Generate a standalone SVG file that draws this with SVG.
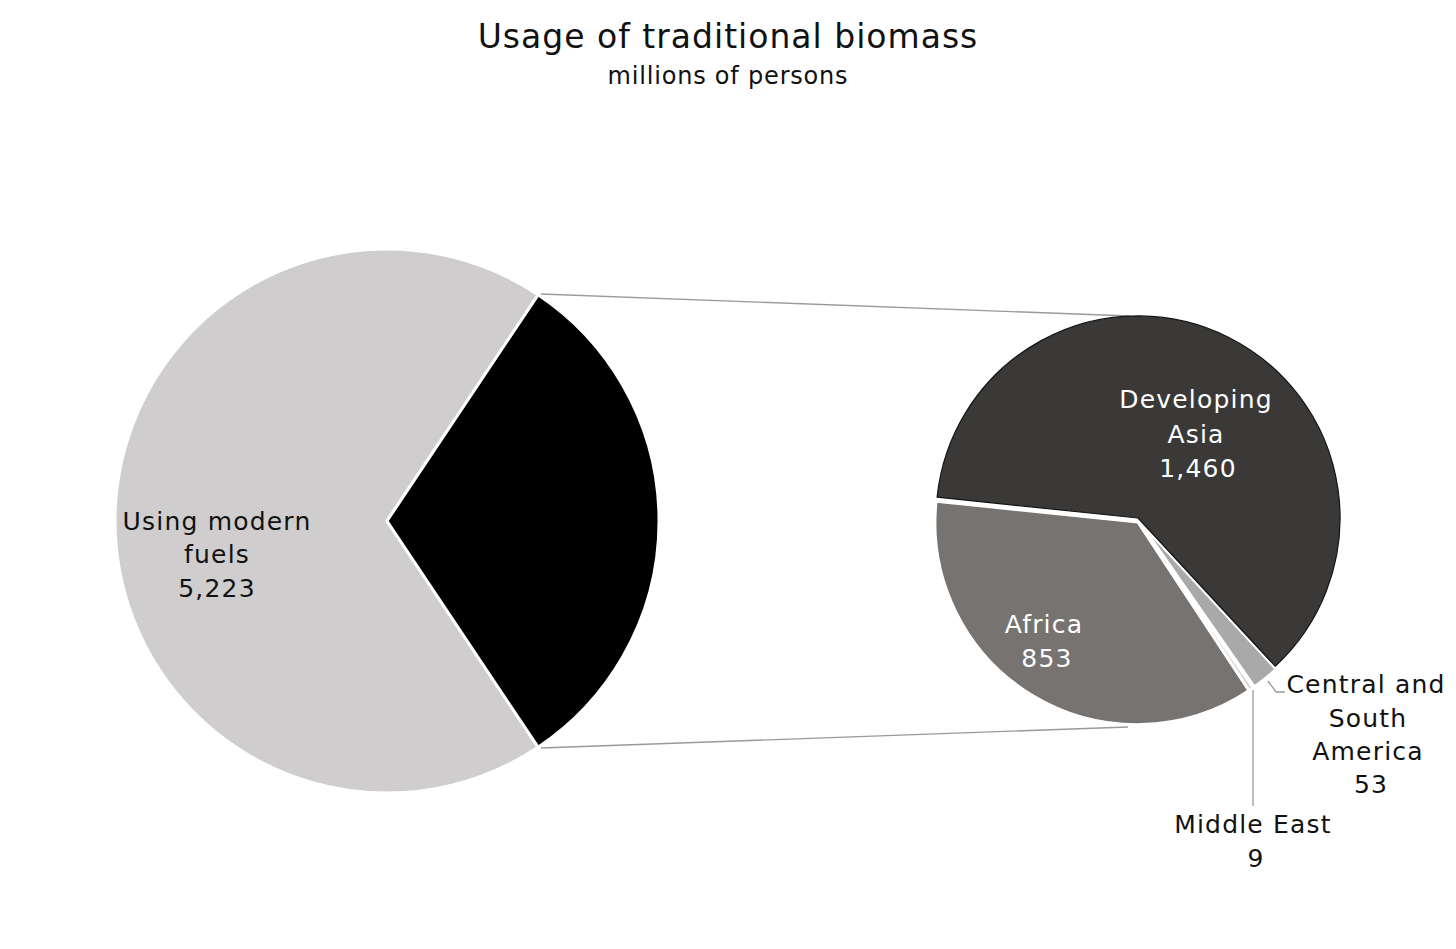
<svg xmlns="http://www.w3.org/2000/svg" width="1456" height="949" viewBox="0 0 1456 949">
<style>
text{font-family:"DejaVu Sans","Liberation Sans",sans-serif;text-anchor:middle;fill:#111}
.lbl{font-size:25px;letter-spacing:1.2px}
.w{fill:#fff}
.lead{stroke:#9a9a9a;stroke-width:1.3;fill:none}
.sep{stroke:#fff;stroke-width:3;stroke-linejoin:round}
</style>
<rect width="1456" height="949" fill="#fff"/>
<g id="title">
<text x="728" y="48" font-size="33" letter-spacing="1">Usage of traditional biomass</text>
<text x="728" y="84" font-size="24" letter-spacing="0.8">millions of persons</text>
</g>
<g id="connectors">
<line class="lead" x1="541" y1="294" x2="1130" y2="316"/>
<line class="lead" x1="541" y1="748" x2="1128" y2="727"/>
<polyline class="lead" points="1268,681 1276,692 1285,692"/>
<line class="lead" x1="1253" y1="690" x2="1253" y2="806"/>
</g>
<g id="modern-fuels">
<path class="sep" d="M387,521 L538.1,294.8 A272,272 0 1 0 538.1,747.2 Z" fill="#cfcdce"/>
<text class="lbl" x="217" y="530">Using modern</text>
<text class="lbl" x="217" y="563">fuels</text>
<text class="lbl" x="217" y="597">5,223</text>
</g>
<g id="traditional-biomass">
<path class="sep" d="M387,521 L538.1,294.8 A272,272 0 0 1 538.1,747.2 Z" fill="#000"/>
</g>
<g id="africa">
<path class="sep" d="M1138,522 L1249.2,690.6 A202,202 0 0 1 936.1,501.2 Z" fill="#767371"/>
<text class="lbl w" x="1044" y="633">Africa</text>
<text class="lbl w" x="1047" y="667">853</text>
</g>
<g id="middle-east">
<path class="sep" d="M1138,522 L1253.3,687.9 A202,202 0 0 1 1249.2,690.6 Z" fill="#d4d4d4" stroke-width="1.5"/>
<text class="lbl" x="1253" y="833">Middle East</text>
<text class="lbl" x="1256" y="867">9</text>
</g>
<g id="central-south-america">
<path class="sep" d="M1139,521 L1276.2,669.2 A202,202 0 0 1 1254.3,686.9 Z" fill="#a9a9a9"/>
<text class="lbl" x="1366" y="693">Central and</text>
<text class="lbl" x="1368" y="727">South</text>
<text class="lbl" x="1368" y="760">America</text>
<text class="lbl" x="1371" y="793">53</text>
</g>
<g id="developing-asia">
<path d="M1138,518 L937.1,497.2 A202,202 0 1 1 1275.2,666.2 Z" fill="#3a3937" stroke="#151515" stroke-width="1.2" stroke-linejoin="round"/>
<text class="lbl w" x="1196" y="408">Developing</text>
<text class="lbl w" x="1196" y="443">Asia</text>
<text class="lbl w" x="1198" y="477">1,460</text>
</g>
</svg>
